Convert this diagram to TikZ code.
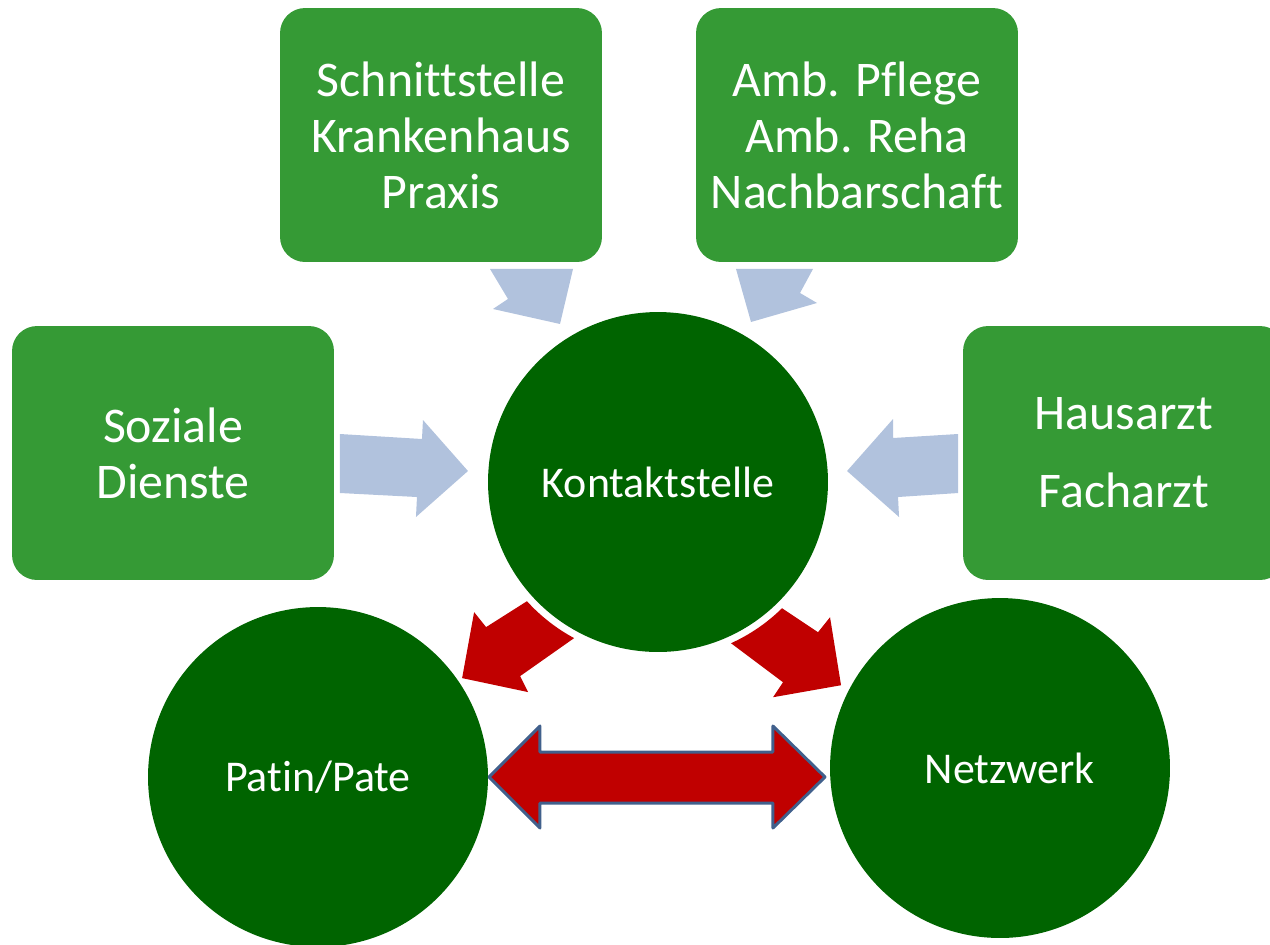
\documentclass[tikz,border=0pt]{standalone}
\usepackage{fontspec}
\setmainfont{Carlito}[Ligatures=NoCommon]
\usepackage{tikz}
\usetikzlibrary{positioning}
\definecolor{cgreen}{HTML}{359A35}
\definecolor{cdark}{HTML}{006400}
\definecolor{cpale}{HTML}{B1C2DD}
\definecolor{cred}{HTML}{C00000}
\definecolor{cedge}{HTML}{41608C}

\begin{document}
\begin{tikzpicture}[x=0.02cm,y=-0.02cm,
  box/.style={rectangle,rounded corners=0.5cm,fill=cgreen,text=white,align=center,
              minimum width=6.44cm,minimum height=5.08cm,inner sep=0pt,outer sep=0pt,
              font=\fontsize{28.4}{31.9}\selectfont},
  circ/.style={circle,fill=cdark,text=white,minimum size=6.8cm,inner sep=0pt,outer sep=0pt,
               font=\fontsize{25}{30}\selectfont},
  pale/.style={fill=cpale},
  redar/.style={fill=cred},
  dbl/.style={fill=cred,draw=cedge,line width=1.7pt,line join=round}]
\useasboundingbox (0,0) rectangle (1270,944);
\clip (0,0) rectangle (1270,944);
\node[box] (schnitt) at (441,135) {Schnittstelle\\Krankenhaus\\Praxis};
\node[box] (amb)     at (857,135) {Amb. Pflege\\Amb. Reha\\Nachbarschaft};
\node[box] (soziale) at (173,453) {Soziale\\Dienste};
\node[box,font=\fontsize{28.4}{44.4}\selectfont] (arzt) at (1124,453) {Hausarzt\\Facharzt};
\node[circ] (kontakt)  at (658,482)  {Kontaktstelle};
\node[circ] (patin)    at (318,777)  {Patin/Pate};
\node[circ] (netzwerk) at (1000,768) {\hspace*{0.38cm}Netzwerk};
% zufliessende Pfeile
\fill[pale] ([shift={(49,7)}]schnitt.south) -- ++(83,0) -- ++(-13,55) -- ++(-67,-15) -- ++(15,-10) -- cycle;
\fill[pale] ([shift={(-121,7)}]amb.south) -- ++(77,0) -- ++(-13,24) -- ++(17,10) -- ++(-66,19) -- cycle;
\fill[pale] ([shift={(6,-19)}]soziale.east) -- ++(82,5) -- ++(1,-19) -- ++(45,51) -- ++(-52,46) -- ++(1,-20) -- ++(-77,-4) -- cycle;
\fill[pale] ([shift={(-5,-19)}]arzt.west) -- ++(-65,4) -- ++(0,-19) -- ++(-46,52) -- ++(52,46) -- ++(-1,-20) -- ++(60,-4) -- cycle;
% abgehende Pfeile
\fill[redar] ([shift={(222.3:3.54cm)}]kontakt.center) -- ++(-41,26) -- ++(-12,-15) -- ++(-12,66) -- ++(66,14) -- ++(-8,-16) -- ++(54,-38)
  arc[start angle=241.7,end angle=222.3,radius=3.54cm] -- cycle;
\fill[redar] ([shift={(314.5:3.54cm)}]kontakt.center) -- ++(36,24) -- ++(12,-15) -- ++(11,68) -- ++(-68,12) -- ++(10,-15) -- ++(-52,-39)
  arc[start angle=294.4,end angle=314.5,radius=3.54cm] -- cycle;
\draw[dbl] ([shift={(1,0)}]patin.east) -- ++(51,-51) -- ++(0,26) -- ++(233,0) -- ++(0,-26) -- ++(52,51)
  -- ++(-52,51) -- ++(0,-25) -- ++(-233,0) -- ++(0,25) -- cycle;
\end{tikzpicture}
\end{document}
